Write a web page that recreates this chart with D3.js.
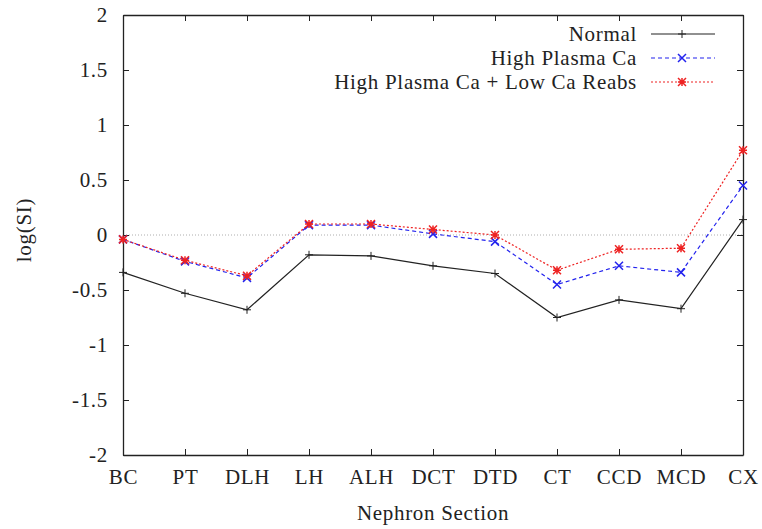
<!DOCTYPE html>
<html><head><meta charset="utf-8">
<script src="https://cdn.jsdelivr.net/npm/d3@7"></script>
</head><body style="margin:0"><svg id="c" width="762" height="529" font-family="Liberation Serif, serif"></svg>
<script>
const categories = ["BC","PT","DLH","LH","ALH","DCT","DTD","CT","CCD","MCD","CX"];
const normal = [-0.34,-0.53,-0.68,-0.18,-0.19,-0.28,-0.35,-0.75,-0.59,-0.67,0.14];
const highCa = [-0.04,-0.24,-0.39,0.09,0.09,0.01,-0.06,-0.45,-0.28,-0.34,0.45];
const highCaLowReabs = [-0.04,-0.23,-0.37,0.10,0.10,0.05,0.00,-0.32,-0.13,-0.12,0.77];
const yTicks = [-2,-1.5,-1,-0.5,0,0.5,1,1.5,2];
const seriesNames = ["Normal","High Plasma Ca","High Plasma Ca + Low Ca Reabs"];

const FONT = "Liberation Serif, serif";
const fs = 21, ls = 0.7;
const svg = d3.select("#c");
const L=123,R=743,T=15,B=455;
const x = d3.scalePoint().domain(categories).range([L,R]);
const y = d3.scaleLinear().domain([-2,2]).range([B,T]);

function styleText(sel){
  return sel.attr("font-family",FONT).attr("font-size",fs).attr("letter-spacing",ls).attr("fill","#222");
}

svg.append("line").attr("x1",L).attr("x2",R).attr("y1",y(0)).attr("y2",y(0))
  .attr("stroke","#999").attr("stroke-width",0.8).attr("stroke-dasharray","1,2");

const gx = svg.append("g").attr("transform",`translate(0,${B})`)
  .call(d3.axisBottom(x).tickSizeInner(-6).tickSizeOuter(0).tickPadding(14));
const gxt = svg.append("g").attr("transform",`translate(0,${T})`)
  .call(d3.axisTop(x).tickSizeInner(-6).tickSizeOuter(0).tickFormat(""));
const gy = svg.append("g").attr("transform",`translate(${L},0)`)
  .call(d3.axisLeft(y).tickValues(yTicks).tickSizeInner(-6).tickSizeOuter(0).tickPadding(15).tickFormat(d=>String(d)));
const gyr = svg.append("g").attr("transform",`translate(${R},0)`)
  .call(d3.axisRight(y).tickValues(yTicks).tickSizeInner(-6).tickSizeOuter(0).tickFormat(""));
[gx,gxt,gy,gyr].forEach(g=>{
  g.attr("font-family",FONT).attr("font-size",fs);
  g.select(".domain").attr("stroke","#222").attr("stroke-width",1.3);
  g.selectAll(".tick line").attr("stroke","#222").attr("stroke-width",1);
  styleText(g.selectAll(".tick text"));
});
gx.selectAll(".tick text").attr("dy","0.71em");

styleText(svg.append("text").attr("x",433).attr("y",520).attr("text-anchor","middle")).text("Nephron Section");
styleText(svg.append("text").attr("transform","translate(31,230) rotate(-90)").attr("text-anchor","middle")).text("log(SI)");

const styles = [
  {data:normal,color:"#222",dash:null,w:1.2,marker:"plus"},
  {data:highCa,color:"#2222ee",dash:"4,3",w:1.2,marker:"x"},
  {data:highCaLowReabs,color:"#ee2222",dash:"2,2",w:1.2,marker:"star"}
];
function marker(g,type,cx,cy,color){
  const s=4;
  const p=[];
  if(type==="plus"||type==="star") p.push(`M${cx-s},${cy}H${cx+s}M${cx},${cy-s}V${cy+s}`);
  if(type==="x"||type==="star") p.push(`M${cx-s},${cy-s}L${cx+s},${cy+s}M${cx-s},${cy+s}L${cx+s},${cy-s}`);
  g.append("path").attr("d",p.join("")).attr("stroke",color).attr("stroke-width",type==="plus"?1:1.5).attr("fill","none");
}
const line = d3.line().x((d,i)=>x(categories[i])).y(d=>y(d));
styles.forEach(s=>{
  const g=svg.append("g");
  g.append("path").datum(s.data).attr("d",line).attr("fill","none").attr("stroke",s.color)
    .attr("stroke-width",s.w).attr("stroke-dasharray",s.dash);
  s.data.forEach((v,i)=>marker(g,s.marker,x(categories[i]),y(v),s.color));
});

const ly=[34,58,82];
styles.forEach((s,i)=>{
  styleText(svg.append("text").attr("x",637).attr("y",ly[i]).attr("dy","0.35em").attr("text-anchor","end")).text(seriesNames[i]);
  svg.append("line").attr("x1",651).attr("x2",715).attr("y1",ly[i]).attr("y2",ly[i]).attr("stroke",s.color)
    .attr("stroke-width",s.w).attr("stroke-dasharray",s.dash);
  marker(svg,s.marker,682,ly[i],s.color);
});
</script></body></html>
